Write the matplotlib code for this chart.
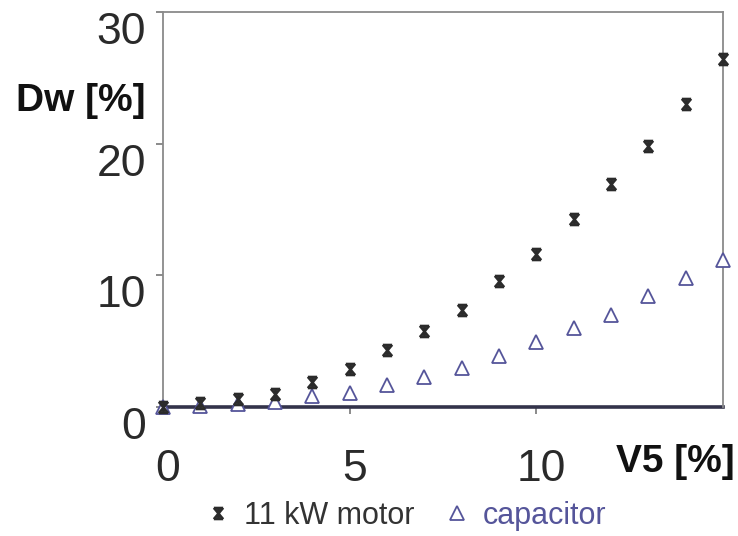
import matplotlib
matplotlib.use("Agg")
import matplotlib.pyplot as plt
import matplotlib.transforms as mtransforms
from matplotlib.path import Path
from matplotlib.lines import Line2D

plt.rcParams['font.family'] = ['Liberation Sans', 'DejaVu Sans']

x_vals = [0, 1, 2, 3, 4, 5, 6, 7, 8, 9, 10, 11, 12, 13, 14, 15]
motor = [0.0, 0.3, 0.6, 1.0, 1.9, 2.9, 4.3, 5.8, 7.4, 9.6, 11.6, 14.3, 16.9, 19.8, 23.0, 26.4]
capacitor = [0.0, 0.1, 0.25, 0.4, 0.8, 1.1, 1.7, 2.3, 3.0, 3.9, 4.9, 6.0, 7.0, 8.4, 9.8, 11.2]
x_ticks = [0, 5, 10]
y_ticks = [0, 10, 20, 30]
series_labels = ['11 kW motor', 'capacitor']

# custom "ж"-like marker: bars top and bottom with an X in between
verts = [(-0.5, 0.6), (0.5, 0.6),
         (-0.5, -0.6), (0.5, -0.6),
         (-0.5, 0.6), (0.5, -0.6),
         (0.5, 0.6), (-0.5, -0.6),
         (0, 0.6), (0, -0.6)]
codes = [Path.MOVETO, Path.LINETO] * 5
motor_marker = Path(verts, codes)

fig = plt.figure(figsize=(7.38, 5.36), dpi=100)
ax = fig.add_axes([163/738, 1-407/536, (723-163)/738, (407-12)/536])

motor_color = '#2b2b2b'
cap_color = '#55559a'

ax.plot(x_vals, motor, linestyle='none', marker=motor_marker, markersize=8,
        markeredgewidth=1.8, color=motor_color, clip_on=False, zorder=4)
ax.plot(x_vals, capacitor, linestyle='none', marker='^', markersize=10,
        markerfacecolor='white', markeredgecolor=cap_color, markeredgewidth=1.3,
        clip_on=False, zorder=3)

ax.set_xlim(0, 15)
ax.set_ylim(0, 30)

for s in ['left', 'top', 'right']:
    ax.spines[s].set_color('#8a8a8a')
    ax.spines[s].set_linewidth(1.3)
ax.spines['bottom'].set_color('#33334a')
ax.spines['bottom'].set_linewidth(2.6)
ax.spines['bottom'].set_zorder(2)

ax.set_xticks(x_ticks)
ax.set_yticks(y_ticks)
ax.tick_params(axis='both', direction='out', length=5, width=1.2, color='#777777',
               labelsize=32, labelcolor='#2a2a2a')
ax.tick_params(axis='x', pad=25)
ax.tick_params(axis='y', pad=7)

# shift labels like the reference
dx = mtransforms.ScaledTranslation(5/100, 0, fig.dpi_scale_trans)
for lab in ax.get_xticklabels():
    lab.set_transform(lab.get_transform() + dx)
dy = mtransforms.ScaledTranslation(0, -16/100, fig.dpi_scale_trans)
for lab in ax.get_yticklabels():
    lab.set_transform(lab.get_transform() + dy)

fig.text(16/738, 1-101/536, 'Dw [%]', fontsize=28, fontweight='bold',
         ha='left', va='center', color='#111111')
fig.text(735/738, 1-462/536, 'V5 [%]', fontsize=28, fontweight='bold',
         ha='right', va='center', color='#111111')

handles = [Line2D([], [], linestyle='none', marker=motor_marker, markersize=8,
                  markeredgewidth=1.8, color=motor_color),
           Line2D([], [], linestyle='none', marker='^', markersize=10,
                  markerfacecolor='white', markeredgecolor=cap_color, markeredgewidth=1.3)]
leg = fig.legend(handles, series_labels, loc='center', bbox_to_anchor=(406/738, 1-516/536),
                 ncol=2, frameon=False, fontsize=22, handlelength=0.8, handletextpad=0.45,
                 columnspacing=1.0, labelcolor=['#333333', cap_color])

fig.savefig('out.png', dpi=100)
